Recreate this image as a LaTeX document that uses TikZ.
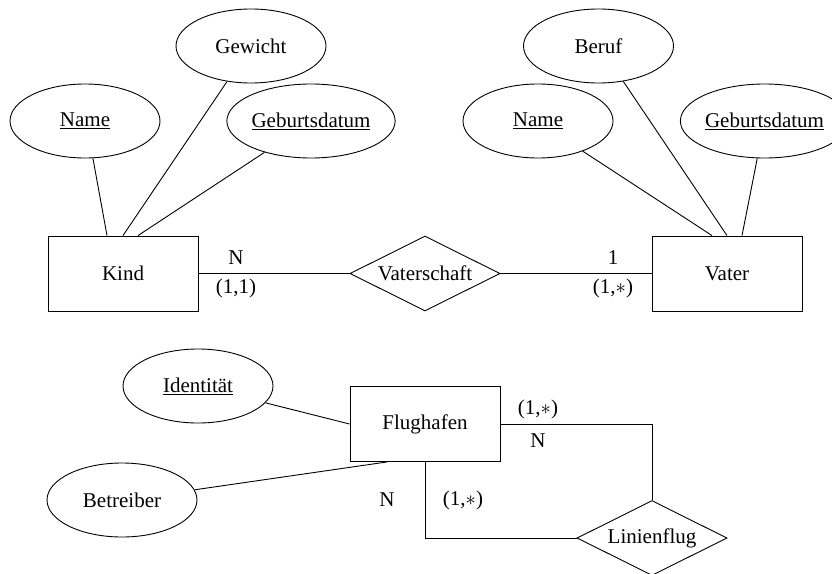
\documentclass[tikz,border=0pt]{standalone}
\usepackage{fontspec}
\setmainfont{Liberation Serif}
\usetikzlibrary{shapes.geometric,calc}
\begin{document}
\begin{tikzpicture}[x=1pt,y=-1pt,
  every node/.style={font=\fontsize{21}{25}\selectfont},
  attr/.style={draw,ellipse,line width=0.9pt,minimum width=150pt,minimum height=74pt,inner sep=0pt},
  entity/.style={draw,rectangle,line width=0.9pt,minimum width=150pt,minimum height=75pt,inner sep=0pt},
  rel/.style={draw,diamond,line width=0.9pt,aspect=2,minimum width=150pt,minimum height=75pt,inner sep=0pt},
  conn/.style={line width=0.9pt},
  lbl/.style={inner sep=0pt}]
\useasboundingbox (0,0) rectangle (832,573);
% top part
\node[attr] (gew) at (251,46) {Gewicht};
\node[attr] (kname) at (85,121) {\underline{Name}};
\node[attr] (kgeb) at (311,121) {\underline{Geburtsdatum}};
\node[entity] (kind) at (123,273.5) {Kind};
\node[rel] (vs) at (425,273.5) {Vaterschaft};
\node[entity] (vater) at (727,273.5) {Vater};
\node[attr] (beruf) at (598.5,46) {Beruf};
\node[attr] (vname) at (538,121) {\underline{Name}};
\node[attr] (vgeb) at (764.5,121) {\underline{Geburtsdatum}};
\draw[conn] (kname.-78) -- ([xshift=-16pt]kind.north);
\draw[conn] (gew.-124) -- (kind.north);
\draw[conn] (kgeb.-146) -- ([xshift=15pt]kind.north);
\draw[conn] (vname.-34) -- ([xshift=-15pt]vater.north);
\draw[conn] (beruf.-55) -- (vater.north);
\draw[conn] (vgeb.-101) -- ([xshift=15pt]vater.north);
\draw[conn] (kind.east) -- (vs.west);
\draw[conn] (vs.east) -- (vater.west);
\node[lbl] (l1) at (236,258) {N};
\node[lbl] (l2) at (236,288) {(1,1)};
\node[lbl] (l3) at (613,258) {1};
\node[lbl] (l4) at (613,288) {(1,$\ast$)};
% bottom part
\node[attr] (ident) at (198,386) {\underline{Identität}};
\node[attr] (betr) at (122,500) {Betreiber};
\node[entity] (flug) at (425,424) {Flughafen};
\node[rel] (lin) at (652,538) {Linienflug};
\draw[conn] (ident.-14) -- (flug.west);
\draw[conn] (betr.8) -- ([xshift=-38pt]flug.south);
\draw[conn] (flug.east) -| (lin.north);
\draw[conn] (flug.south) |- (lin.west);
\node[lbl] (l5) at (538,409) {(1,$\ast$)};
\node[lbl] (l6) at (538,441) {N};
\node[lbl] (l7) at (387,500) {N};
\node[lbl] (l8) at (463,500) {(1,$\ast$)};
\end{tikzpicture}
\end{document}
